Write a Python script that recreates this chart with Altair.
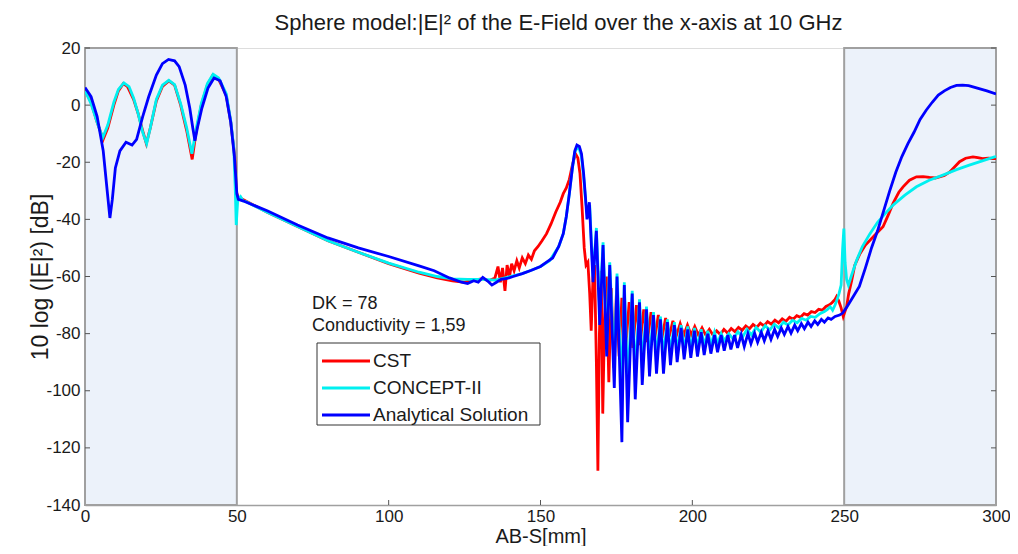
import altair as alt
import pandas as pd

# ---------------- data ----------------
series_names = ["CST", "CONCEPT-II", "Analytical Solution"]
series_colors = ["#FF0000", "#00F0F0", "#0000FF"]

x_ticks = [0, 50, 100, 150, 200, 250, 300]
y_ticks = [-140, -120, -100, -80, -60, -40, -20, 0, 20]
x_inner_ticks = [100, 150, 200]
y_inner_ticks = [-120, -100, -80, -60, -40, -20, 0, 20]

region_start = [0, 250]
region_end = [50, 300]

blue_x = [0, 2, 4, 6, 7.5, 8.2, 9, 10, 11.5, 13.5, 15.5, 17, 19, 21, 23.5, 25.5, 27.5, 29.5, 31, 33,
          34.5, 35.5, 36.2, 37, 38.5, 40.5, 42.5, 44.5, 46.5, 48, 49.2, 50, 50.5, 52, 60, 70, 80, 90, 100, 110,
          115, 120, 124, 126, 128, 129.5, 131, 132.5, 134, 135.5, 137, 139, 141, 144, 147, 150, 152, 154, 156, 157.5,
          158.5, 159.5, 160.5, 161.3, 162, 162.8, 163.5, 164.2, 164.8, 165.3, 166.1, 167.3, 168.4, 169.5, 170.6, 171.8, 172.8, 174.3, 175.2, 176.8,
          177.6, 178.7, 180.2, 181.2, 182.6, 183.5, 184.9, 185.9, 187.2, 188.2, 189.5, 190.5, 191.8, 192.8, 194.1, 195.0, 196.3, 197.3, 198.5, 199.5,
          200.7, 201.7, 202.9, 203.9, 205.1, 206.1, 207.3, 208.3, 209.5, 210.5, 211.7, 212.7, 213.9, 214.9, 216.1, 217.1, 218.3, 219.3, 220.5, 221.5,
          222.7, 223.7, 224.9, 225.9, 227.1, 228.1, 229.3, 230.3, 231.5, 232.5, 233.7, 234.7, 235.9, 236.9, 238.1, 239.1, 240.3, 241.3, 242.5, 243.5,
          244.7, 245.7, 247, 248.5, 249.5, 251, 253, 255, 257, 259, 261, 263, 265, 267, 269, 271, 273, 275, 277, 279,
          281, 283, 285, 287, 289, 291, 293, 295, 297, 300]
blue_y = [6.2, 3, -4, -16, -32, -39.5, -33, -22, -16, -13, -14, -12, -4, 3, 10.5, 14.5, 16, 15.5, 13.5, 7,
          -1, -8, -12.5, -8, -1, 6, 9.5, 8.5, 3, -6, -18, -31, -33, -33.5, -37, -42, -46.5, -50, -53, -56.3,
          -58, -60.5, -62, -62.5, -61.5, -62, -60.3, -61.5, -63, -62, -61, -60.7, -60, -59, -57.8, -56.5, -55, -53.5, -49.5, -45,
          -39, -31, -22, -16, -14, -14.5, -17, -24, -32, -40, -34, -62, -44, -77, -49, -88, -56, -99, -60, -118,
          -63, -111, -66, -103, -69, -98, -71.5, -95, -73.5, -94, -75, -94, -76, -91, -77, -90, -78, -89, -78.5, -88.5,
          -79, -88, -79.5, -87.5, -80, -87, -80.5, -86.5, -80.5, -86, -80.5, -85.5, -80.5, -85, -80.3, -84.5, -80, -83.5, -79.8, -83,
          -79.5, -82.5, -79, -82, -78.5, -81, -78, -80.3, -77.5, -79.8, -77, -79, -76.5, -78.3, -76, -77.5, -75.5, -76.8, -75, -76,
          -74.5, -75, -74, -73.5, -72.8, -70.5, -67, -63.5, -57, -50, -44, -37, -30, -23.5, -18, -13.5, -9.5, -5, -1.8, 1,
          3.5, 5, 6.2, 6.9, 7, 6.8, 6.2, 5.6, 5, 3.9]

red_x = [0, 2, 4, 6, 7.5, 9.5, 11, 12.6, 14, 16, 17.5, 19, 20.2, 21.5, 23.5, 25.5, 27.6, 29.5, 31.5, 33.5,
         35.3, 36.5, 38.3, 40.3, 42.1, 44, 46.5, 48, 49.3, 49.8, 50.3, 52, 60, 70, 80, 90, 100, 110, 116, 121,
         125, 128, 131, 133, 135, 136, 136.8, 137.5, 138.3, 139, 139.8, 140.5, 141.3, 142.2, 143, 144, 145, 146, 147, 148,
         149.2, 150.5, 152, 153.5, 155, 156.5, 157.5, 158.5, 159.5, 160.5, 161.5, 162.3, 163, 163.7, 164.4, 165, 165.6, 166.2, 166.7, 167.3,
         167.8, 168.4, 168.9, 169.4, 170, 170.5, 171.1, 171.7, 172.5, 173.3, 174.2, 175, 175.9, 176.8, 178, 179.2, 180.4, 181.6, 182.8, 184,
         185.2, 186.4, 187.6, 188.8, 190, 191.2, 192.4, 193.6, 194.8, 196, 197.2, 198.4, 199.6, 200.8, 202, 203.2, 204.4, 205.6, 206.8, 208,
         209.2, 210.4, 211.6, 212.8, 214, 215.2, 216.4, 217.6, 218.8, 220, 221.2, 222.4, 223.6, 224.8, 226, 227.2, 228.4, 229.6, 230.8, 232,
         233.2, 234.4, 235.6, 236.8, 238, 239.2, 240.4, 241.6, 242.8, 244, 245, 246, 247, 247.5, 248.2, 249, 249.7, 250.8, 251.5, 252.5,
         253.5, 255.2, 257, 259.6, 261, 262.8, 264.5, 266.1, 268, 269.4, 271.5, 273.8, 276, 278.1, 280, 281.4, 283, 284.7, 286.5, 288,
         290, 292.4, 294, 295.6, 297.5, 300]
red_y = [5.5, 1, -6, -12, -8, 0, 5, 7.5, 6.5, 2, -3, -9, -13.5, -8, 1.5, 6.5, 8.5, 7, 0, -9,
         -19, -10, 0, 7, 10.5, 9, 3.5, -6, -18, -30, -32, -33, -37.5, -42.5, -47.5, -51.5, -55.5, -58.8, -60.5, -61.5,
         -62, -61.3, -60.8, -61.5, -60.5, -56.5, -62, -57, -65, -56, -60, -55.5, -58, -54.5, -57, -53.5, -55.5, -52.5, -54, -51,
         -49.5, -47.5, -45, -41.5, -37.5, -34, -31, -29, -26, -21, -17, -18.5, -24, -36, -50, -56, -55, -66, -79, -60,
         -56, -90, -128, -80, -58, -108, -75, -60, -97, -64, -92, -66, -88, -67.5, -86, -69, -85, -70, -84, -71.5,
         -83, -72.5, -82, -73.5, -81.5, -74.5, -81, -75.5, -80.5, -76.5, -80.5, -77, -80.5, -77.5, -80.5, -78, -80.5, -78.5, -80.5, -79,
         -80.3, -78.5, -79.8, -78.2, -79.3, -77.8, -78.8, -77.3, -78.3, -76.8, -77.8, -76.3, -77.3, -75.8, -76.7, -75.3, -76.2, -74.8, -75.7, -74.3,
         -75, -73.7, -74.3, -73, -73.5, -72.3, -72.6, -71.5, -71.8, -70.5, -70, -69.2, -68, -67, -68.5, -71, -74, -70.6, -66, -61.3,
         -56, -52, -49, -46.1, -44.5, -42.6, -38.5, -34.4, -30.5, -28.6, -26.3, -25.1, -25, -25.3, -25.5, -25.1, -24.6, -23.5, -21.5, -19.8,
         -18.6, -18.1, -18.4, -18.7, -18.6, -18.7]

cyan_x = [0, 2, 4, 5.8, 7.5, 9.5, 11, 12.8, 14.5, 16, 17.5, 19, 20.3, 21.5, 23.5, 25.5, 27.6, 29.5, 31.5, 33.5,
          35.2, 36.5, 38.3, 40.3, 42.2, 44, 46.5, 48, 49, 49.5, 49.8, 50.3, 51.2, 52, 53, 60, 70, 80, 90, 100,
          110, 116, 121, 126, 131, 135, 137, 140, 144, 147, 150, 153, 156, 157.5, 158.5, 159.5, 160.5, 161.3, 162, 162.8,
          163.5, 164.2, 164.8, 165.4, 166.2, 167.3, 168.4, 169.5, 170.6, 171.8, 172.8, 174.3, 175.2, 176.8, 177.6, 178.7, 180.2, 181.2, 182.6, 183.5,
          184.9, 185.9, 187.2, 188.2, 189.5, 190.5, 191.8, 192.8, 194.1, 195, 196.3, 197.3, 198.5, 199.5, 200.7, 201.7, 202.9, 203.9, 205.1, 206.1,
          207.3, 208.3, 209.5, 210.5, 212, 213.5, 215, 216.5, 218, 219.5, 221, 222.5, 224, 225.5, 227, 228.5, 230, 231.5, 233, 234.5,
          236, 237.5, 239, 240.5, 242, 243.5, 244.5, 245.4, 246.2, 247, 247.7, 248.3, 249, 249.5, 249.9, 250.3, 250.8, 251.4, 252.3, 254.1,
          256, 258.5, 261, 263.5, 266.1, 270, 273.8, 278, 282.5, 287, 291.2, 295.5, 299.5, 300]
cyan_y = [5, 0.5, -6, -11.5, -7, 1, 5.5, 7.8, 6.5, 2.5, -3, -9.5, -13.5, -8, 2, 7, 8.7, 7.2, 0.5, -8,
          -17, -9, 0.5, 7.5, 10.8, 9.5, 4, -5.5, -15, -30, -42, -33, -32, -33.5, -33.8, -37.5, -42.5, -47.5, -51.5, -55.3,
          -58.5, -60, -60.8, -61, -61, -61.3, -60.8, -60, -59, -57.8, -56.5, -54.5, -49.5, -45, -39, -31, -22, -16.5, -15, -15.5,
          -18, -25, -33, -38, -35, -60, -43, -72, -48, -84, -55, -92, -59, -100, -62, -98, -65, -95, -68, -92,
          -70.5, -90, -72.5, -89, -74, -88, -75, -87, -76, -86.5, -77, -86, -77.5, -85.5, -78, -85, -78.5, -84.5, -79, -84,
          -79.5, -83.5, -80, -82.5, -80, -82, -79.3, -81.3, -78.5, -80.5, -77.8, -79.5, -77.2, -78.7, -76.7, -78, -76, -77, -75.3, -76.2,
          -74.7, -75.3, -74, -74.3, -73, -72.3, -71.5, -70.6, -71.8, -70, -68, -66, -63, -50, -43.2, -55, -61, -63, -60, -54.3,
          -49.5, -45, -41, -38, -35, -31.5, -28.6, -26.3, -24.5, -22.6, -21, -19.5, -18.1, -18]

annotation_lines = ["DK = 78", "Conductivity = 1,59"]

# ---------------- build tables ----------------
df_red = pd.DataFrame({"x": red_x, "y": red_y, "series": series_names[0]})
df_cyan = pd.DataFrame({"x": cyan_x, "y": cyan_y, "series": series_names[1]})
df_blue = pd.DataFrame({"x": blue_x, "y": blue_y, "series": series_names[2]})
df_regions = pd.DataFrame({"x0": region_start, "x1": region_end,
                           "y0": [y_ticks[0]] * 2, "y1": [y_ticks[-1]] * 2})

FONT = "Liberation Sans"
TXT = "#1a1a1a"
AXC = "#a0a0a0"
TICKC = "#555555"
W, H = 911, 457

xscale = alt.Scale(domain=[0, 300], nice=False)
yscale = alt.Scale(domain=[-140, 20], nice=False)
cscale = alt.Scale(domain=series_names, range=series_colors)

xaxis = alt.Axis(values=x_ticks, title="AB-S[mm]", labelFontSize=17, titleFontSize=20,
                 titleFontWeight="normal", labelFont=FONT, titleFont=FONT, labelColor=TXT, titleColor=TXT,
                 domainColor=AXC, domainWidth=1.5, ticks=False, grid=False, labelPadding=3, titlePadding=2,
                 labelFlush=False, labelExpr="'' + datum.value")
yaxis = alt.Axis(values=y_ticks, title="10 log (|E|²) [dB]", labelFontSize=17, titleFontSize=23,
                 titleFontWeight="normal", labelFont=FONT, titleFont=FONT, labelColor=TXT, titleColor=TXT,
                 domainColor=AXC, domainWidth=1.5, ticks=False, grid=False, labelPadding=5,
                 titleX=-33, titleY=H / 2, labelExpr="'' + datum.value")

regions = alt.Chart(df_regions).mark_rect(fill="#ECF2FA", stroke=AXC, strokeWidth=2).encode(
    x=alt.X("x0:Q", scale=xscale, axis=xaxis), x2="x1:Q",
    y=alt.Y("y0:Q", scale=yscale, axis=yaxis), y2="y1:Q")


def line(df):
    return alt.Chart(df).mark_line(strokeWidth=2.8, clip=True).encode(
        x=alt.X("x:Q", scale=xscale), y=alt.Y("y:Q", scale=yscale),
        color=alt.Color("series:N", scale=cscale, legend=None))


xt = pd.DataFrame({"v": x_inner_ticks})
yt = pd.DataFrame({"v": y_inner_ticks})
xticks = alt.Chart(xt).mark_rule(color=TICKC, strokeWidth=1).encode(
    x=alt.X("v:Q", scale=xscale), y=alt.value(H), y2=alt.value(H - 5))
yticks = alt.Chart(yt).mark_rule(color=TICKC, strokeWidth=1).encode(
    y=alt.Y("v:Q", scale=yscale), x=alt.value(0), x2=alt.value(5))
yticks_r = alt.Chart(yt).mark_rule(color=TICKC, strokeWidth=1).encode(
    y=alt.Y("v:Q", scale=yscale), x=alt.value(W), x2=alt.value(W - 5))

layers = [regions, line(df_red), line(df_cyan), line(df_blue), xticks, yticks, yticks_r]

# annotation text
for i, t in enumerate(annotation_lines):
    layers.append(alt.Chart(pd.DataFrame({"t": [t]})).mark_text(
        align="left", baseline="middle", fontSize=18, font=FONT, color=TXT).encode(
        text="t:N", x=alt.value(227), y=alt.value(256 + 22 * i)))

# legend box (manual, matching the reference's boxed legend)
LX0, LY0, LX1, LY1 = 232, 295, 455, 377
layers.append(alt.Chart(pd.DataFrame({"a": [0]})).mark_rect(
    fill="white", stroke="#333333", strokeWidth=1).encode(
    x=alt.value(LX0), x2=alt.value(LX1), y=alt.value(LY0), y2=alt.value(LY1)))
for i, name in enumerate(series_names):
    d = pd.DataFrame({"series": [name]})
    yy = 313 + 27 * i
    layers.append(alt.Chart(d).mark_rule(strokeWidth=2.8).encode(
        x=alt.value(237), x2=alt.value(285), y=alt.value(yy),
        color=alt.Color("series:N", scale=cscale, legend=None)))
    layers.append(alt.Chart(d).mark_text(
        align="left", baseline="middle", fontSize=19, font=FONT, color=TXT).encode(
        text="series:N", x=alt.value(288), y=alt.value(yy)))

chart = alt.layer(*layers).properties(
    width=W, height=H,
    title=alt.TitleParams("Sphere model:|E|² of the E-Field over the x-axis at 10 GHz",
                          fontSize=22, font=FONT, fontWeight="normal", color=TXT, offset=4, dx=18),
    autosize=alt.AutoSizeParams(type="none"),
    padding={"left": 77, "top": 40, "right": 14, "bottom": 41},
).configure_view(stroke=None).configure(background="white")

chart.save("out.html", embed_options={"renderer": "svg", "actions": False})
